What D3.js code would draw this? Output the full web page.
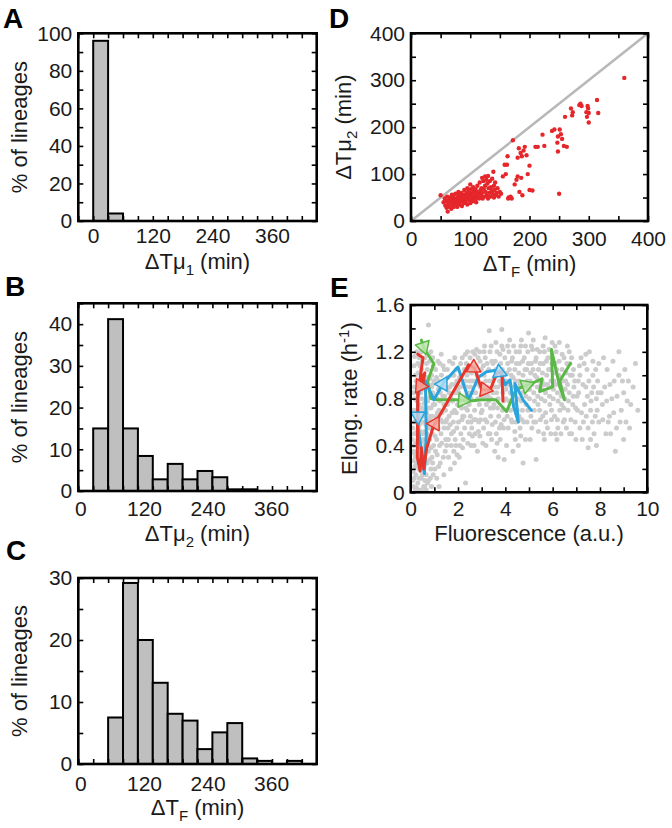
<!DOCTYPE html>
<html><head><meta charset="utf-8">
<script src="https://cdn.jsdelivr.net/npm/d3@7"></script>
<style>
html,body{margin:0;padding:0;background:#fff;}
svg{display:block;}
</style></head><body>
<svg id="fig" width="672" height="828"></svg>
<script>
// ---------------- DATA ----------------
// Panel A histogram (ΔTμ1, min)
const binLeftA = [0, 30];
const binWidthA = 30;
const pctA = [96, 4];
// Panel B histogram (ΔTμ2, min)
const binLeftB = [24.1, 52.3, 80.4, 108.5, 136.6, 164.8, 192.9, 221.0, 249.1, 277.3, 305.4];
const binWidthBC = 28.125;
const pctB = [15, 41.2, 15, 8.4, 2.8, 6.5, 2.8, 4.8, 3.3, 0.4, 0.4];
// Panel C histogram (ΔTF, min)
const binLeftC = [52.3, 80.4, 108.5, 136.6, 164.8, 192.9, 221.0, 249.1, 277.3, 305.4, 333.5, 361.6, 389.8];
const pctC = [7.5, 29.2, 20, 13.1, 8.1, 7.0, 2.4, 5.1, 6.6, 0.9, 0.5, 0, 0.5];
// Tick labels
const histXLabels = [0, 120, 240, 360];
const yLabelsA = [0, 20, 40, 60, 80, 100];
const yLabelsB = [0, 10, 20, 30, 40];
const yLabelsC = [0, 10, 20, 30];
const labelsD = [0, 100, 200, 300, 400];
const xLabelsE = [0, 2, 4, 6, 8, 10];
const yLabelsE = [0, 0.4, 0.8, 1.2, 1.6];

// Panel D scatter: [ΔTF, ΔTμ2]
const scatterD = [
[50,55],[55,40],[57,48],[58,33],[60,28],[60,42],[61,52],[62,20],[63,36],[64,45],[65,30],[66,50],
[67,40],[68,26],[69,56],[70,35],[70,45],[71,52],[72,30],[73,40],[74,48],[75,58],[76,36],[77,44],
[78,30],[79,50],[80,40],[80,62],[81,55],[82,35],[83,46],[84,52],[85,42],[85,60],[86,32],[87,48],
[88,56],[89,38],[90,66],[90,45],[91,52],[92,40],[93,58],[94,48],[95,35],[95,70],[96,62],[97,55],
[98,44],[99,50],[100,38],[100,60],[100,78],[101,68],[102,55],[103,48],[104,42],[105,58],[105,72],
[106,64],[107,50],[108,45],[109,68],[110,55],[110,40],[111,62],[112,75],[113,50],[114,58],[115,48],
[116,82],[117,65],[118,55],[119,70],[120,60],[120,92],[121,48],[122,85],[123,68],[124,52],[125,95],
[125,75],[126,62],[127,88],[128,55],[129,80],[130,96],[130,48],[131,70],[132,60],[133,85],[134,52],
[135,72],[136,64],[137,90],[138,58],[139,105],[140,75],[140,50],[141,66],[142,82],[143,55],[145,60],
[146,70],[148,52],[150,62],[152,58],[155,95],[158,120],[160,100],[162,120],[163,138],[164,48],
[165,50],[168,52],[170,48],[172,172],[175,78],[178,88],[180,95],[180,135],[182,155],[183,62],
[185,145],[186,92],[187,138],[188,55],[190,150],[192,158],[195,140],[197,100],[200,118],[200,66],
[205,65],[210,158],[214,158],[222,184],[225,160],[238,192],[242,195],[247,167],[248,180],[248,148],
[250,58],[251,195],[253,185],[255,175],[258,160],[260,222],[263,158],[270,240],[272,225],[273,232],
[284,247],[286,250],[288,245],[296,232],[297,222],[298,245],[299,240],[300,210],[300,230],[314,258],
[316,230],[360,305]
];
const diagonalD = [[0,0],[400,400]];

// Panel E background cloud: [fluorescence, elongation rate]
const cloudE = [
[0.12,0.05],[0.15,0.12],[0.18,0.22],[0.2,0.3],[0.14,0.4],[0.22,0.5],[0.16,0.6],[0.25,0.7],[0.18,0.8],[0.28,0.9],
[0.2,1.0],[0.3,1.1],[0.22,0.15],[0.3,0.08],[0.35,0.2],[0.28,0.35],[0.38,0.45],[0.32,0.55],[0.4,0.65],[0.35,0.75],
[0.42,0.85],[0.38,0.95],[0.45,1.05],[0.4,0.3],[0.45,0.12],[0.48,0.25],[0.42,0.38],[0.5,0.5],[0.46,0.6],[0.25,0.25],
[0.1,0.35],[0.12,0.7],[0.32,0.65],[0.26,1.2],[0.36,1.15],[0.48,0.72],[0.5,0.92],[0.44,1.2],[0.15,0.9],[0.33,0.02],
[0.45,0.02],[0.2,0.02],[0.3,0.45],[0.24,0.6],[0.36,0.33],[0.1,0.18],[0.5,0.15],[0.5,0.35],[0.13,0.5],[0.41,0.52],
[0.55,0.05],[0.6,0.1],[0.52,0.2],[0.65,0.15],[0.7,0.25],[0.58,0.3],[0.75,0.35],[0.62,0.4],[0.8,0.45],[0.68,0.5],
[0.85,0.55],[0.55,0.6],[0.72,0.6],[0.9,0.65],[0.6,0.7],[0.78,0.72],[0.95,0.75],[0.65,0.8],[0.82,0.82],[0.57,0.88],
[0.75,0.9],[0.92,0.92],[0.63,0.98],[0.88,1.0],[0.7,1.05],[0.95,1.08],[0.8,1.12],[0.6,1.15],[0.9,0.3],[0.97,0.4],
[0.85,0.2],[0.75,0.1],[0.95,0.15],[0.88,0.05],[0.66,0.02],[0.98,0.55],[0.7,0.4],[0.93,0.85],[0.53,0.45],[0.77,0.55],
[0.83,0.65],[0.99,0.95],[0.85,1.2],[0.72,0.78],[0.6,0.52],[0.67,0.68],[0.75,1.43],
[1.02,0.2],[1.05,0.35],[1.1,0.45],[1.15,0.55],[1.08,0.65],[1.2,0.7],[1.12,0.8],[1.25,0.85],[1.18,0.95],[1.3,1.0],
[1.05,1.05],[1.35,0.6],[1.4,0.75],[1.28,0.5],[1.45,0.9],[1.22,0.4],[1.38,0.3],[1.48,0.45],[1.1,0.12],[1.32,0.68],
[1.42,1.05],[1.15,1.12],[1.25,0.25],[1.48,0.6],[1.02,0.75],[1.36,0.82],[1.2,0.05],[1.4,0.15],
[1.52,0.4],[1.58,0.55],[1.62,0.65],[1.55,0.75],[1.7,0.8],[1.65,0.9],[1.75,1.0],[1.8,0.6],[1.85,0.7],[1.9,0.85],
[1.95,0.95],[1.72,0.5],[1.88,0.45],[1.6,0.3],[1.78,1.1],[1.92,1.05],[1.98,0.75],[1.68,0.2],[1.82,0.35],[1.55,1.05],
[1.85,0.25],[1.62,0.85],[1.95,0.55],[1.75,0.68],
[2.02,0.6],[2.05,0.75],[2.1,0.9],[2.15,1.0],[2.2,0.65],[2.25,0.8],[2.3,0.95],[2.35,1.1],[2.4,0.7],[2.45,0.85],
[2.12,0.5],[2.28,0.55],[2.42,0.6],[2.18,1.15],[2.38,1.0],[2.08,0.4],[2.32,0.08],[2.22,0.45],[2.48,0.95],[2.05,0.3],
[2.48,0.5],[2.4,1.2],[2.15,0.72],[2.35,0.82],
[2.52,0.65],[2.55,0.8],[2.6,0.95],[2.65,1.05],[2.7,0.7],[2.75,0.85],[2.8,1.0],[2.85,1.15],[2.9,0.75],[2.95,0.9],
[2.58,0.55],[2.72,0.5],[2.88,0.6],[2.62,1.2],[2.78,1.22],[2.98,1.05],[2.68,0.4],[2.82,0.35],[2.92,0.48],[2.55,0.4],
[2.75,0.62],[2.98,0.68],
[3.02,0.7],[3.05,0.85],[3.1,1.0],[3.15,1.15],[3.2,0.75],[3.25,0.9],[3.3,1.05],[3.35,1.2],[3.4,0.8],[3.45,0.95],
[3.08,0.55],[3.22,0.6],[3.38,0.65],[3.48,1.1],[3.12,1.25],[3.28,0.5],[3.42,0.45],[3.18,0.4],[3.32,1.38],[3.05,0.42],
[3.48,0.72],[3.3,0.78],
[3.52,0.75],[3.55,0.9],[3.6,1.05],[3.65,1.2],[3.7,0.8],[3.75,0.95],[3.8,1.1],[3.85,1.25],[3.9,0.85],[3.95,1.0],
[3.58,0.6],[3.72,0.65],[3.88,0.7],[3.62,0.5],[3.78,0.45],[3.92,0.55],[3.7,0.3],[3.98,1.15],[3.55,0.35],[3.82,0.58],
[3.68,0.9],[3.95,0.28],[3.85,1.39],
[4.02,0.8],[4.05,0.95],[4.1,1.1],[4.15,1.2],[4.2,0.85],[4.25,1.0],[4.3,1.15],[4.35,0.9],[4.4,1.05],[4.45,1.2],
[4.08,0.65],[4.22,0.7],[4.38,0.75],[4.12,0.55],[4.28,0.6],[4.45,0.6],[4.18,1.3],[4.42,0.45],[4.05,0.4],[4.32,0.35],
[4.48,0.88],[4.15,0.78],
[4.52,0.8],[4.55,0.95],[4.6,1.1],[4.65,1.25],[4.7,0.85],[4.75,1.0],[4.8,1.15],[4.85,0.9],[4.9,1.05],[4.95,1.2],
[4.58,0.65],[4.72,0.7],[4.88,0.75],[4.62,0.55],[4.78,0.6],[4.92,0.6],[4.68,1.3],[4.98,0.88],[4.55,0.4],[4.85,0.45],
[4.75,0.25],[4.98,1.36],
[5.02,0.8],[5.05,0.95],[5.1,1.1],[5.15,1.22],[5.2,0.85],[5.25,1.0],[5.3,1.15],[5.35,0.9],[5.4,1.05],[5.45,1.2],
[5.08,0.65],[5.22,0.7],[5.38,0.75],[5.12,0.55],[5.28,0.6],[5.48,0.62],[5.18,1.3],[5.3,0.28],[5.45,0.9],[5.05,0.45],
[5.52,0.8],[5.55,0.95],[5.6,1.1],[5.65,1.2],[5.7,0.85],[5.75,1.0],[5.8,1.15],[5.85,0.9],[5.9,1.05],[5.95,0.7],
[5.58,0.65],[5.72,0.6],[5.88,0.75],[5.62,0.5],[5.78,0.55],[5.98,1.28],[5.68,1.32],[5.92,0.5],
[6.02,0.8],[6.05,0.95],[6.1,1.1],[6.15,1.2],[6.2,0.85],[6.25,1.0],[6.3,0.7],[6.35,0.9],[6.4,1.05],[6.45,0.6],
[6.08,0.65],[6.22,0.55],[6.38,0.75],[6.12,0.5],[6.28,1.28],[6.48,1.15],[6.18,0.45],
[6.52,0.8],[6.55,0.95],[6.6,1.1],[6.65,0.7],[6.7,0.85],[6.75,1.0],[6.8,1.15],[6.85,0.75],[6.9,0.9],[6.95,0.6],
[6.58,0.55],[6.72,0.5],[6.88,1.05],[6.62,1.25],[6.98,0.45],
[7.05,0.7],[7.1,0.85],[7.15,1.0],[7.2,1.15],[7.3,0.6],[7.35,0.75],[7.4,0.9],[7.45,1.05],[7.5,0.55],[7.6,0.7],
[7.65,0.85],[7.7,1.0],[7.8,0.65],[7.85,0.8],[7.9,0.95],[7.25,0.45],[7.55,1.2],[7.75,0.5],[7.95,1.1],[7.15,0.55],
[7.5,0.38],[7.85,0.4],[7.95,0.6],
[8.1,0.75],[8.2,0.9],[8.3,1.05],[8.4,0.65],[8.5,0.8],[8.6,0.95],[8.7,0.55],[8.8,1.0],[8.9,0.7],[9.0,0.85],
[9.1,0.6],[8.25,0.5],[8.55,1.12],[8.15,1.15],[9.3,0.75],[9.5,1.1],[9.2,0.95],[8.65,0.35],[9.0,0.45],[8.35,0.6],
// second pass of readings
[0.08,0.1],[0.11,0.27],[0.17,0.33],[0.21,0.42],[0.09,0.55],[0.19,0.66],[0.27,0.78],[0.11,0.85],[0.23,0.95],[0.31,1.02],
[0.14,1.08],[0.24,0.04],[0.37,0.12],[0.43,0.22],[0.33,0.28],[0.47,0.43],[0.37,0.58],[0.27,0.52],[0.45,0.68],[0.31,0.84],
[0.47,0.8],[0.39,1.08],[0.49,1.12],[0.53,0.98],[0.57,0.76],[0.54,0.65],[0.56,0.38],[0.62,0.27],[0.64,0.58],[0.69,0.72],
[0.73,0.47],[0.79,0.62],[0.81,0.28],[0.87,0.38],[0.91,0.5],[0.94,0.6],[0.86,0.72],[0.97,0.82],[0.89,0.9],[0.81,0.97],
[0.73,0.98],[0.67,1.1],[0.77,1.18],[0.93,1.15],[0.59,0.05],[0.71,0.08],[0.83,0.12],[0.93,0.25],[0.16,1.16],[0.06,0.45],
[1.03,0.48],[1.07,0.58],[1.13,0.68],[1.17,0.88],[1.23,0.78],[1.27,0.62],[1.33,0.9],[1.37,1.08],[1.43,0.82],[1.47,0.7],
[1.12,0.32],[1.18,0.22],[1.31,0.42],[1.41,0.55],[1.46,0.35],[1.09,0.98],[1.23,1.1],[1.29,1.18],[1.53,0.88],[1.57,0.98],
[1.63,0.78],[1.67,0.58],[1.73,0.92],[1.77,0.78],[1.83,1.0],[1.87,0.92],[1.93,0.68],[1.97,0.88],[1.59,0.45],[1.71,0.4],
[1.81,0.52],[1.91,0.4],[1.64,1.12],[1.86,1.15],[1.52,0.62],[1.96,0.32],
[2.03,0.85],[2.07,0.98],[2.13,0.82],[2.17,0.62],[2.23,0.92],[2.27,1.05],[2.33,0.72],[2.37,0.9],[2.43,1.05],[2.47,0.75],
[2.53,0.9],[2.57,1.02],[2.63,0.85],[2.67,0.62],[2.73,0.95],[2.77,1.08],[2.83,0.8],[2.87,0.92],[2.93,1.12],[2.97,0.82],
[2.11,1.1],[2.31,1.18],[2.51,1.15],[2.71,1.18],[2.91,1.2],[2.19,0.38],[2.41,0.42],[2.61,0.48],[2.86,0.52],[2.25,0.65],
[2.55,0.6],[2.95,0.62],
[3.03,0.92],[3.07,1.08],[3.13,0.82],[3.17,0.95],[3.23,1.1],[3.27,0.82],[3.33,0.95],[3.37,0.72],[3.43,1.12],[3.47,0.85],
[3.53,0.98],[3.57,1.12],[3.63,0.85],[3.67,0.72],[3.73,1.02],[3.77,1.18],[3.83,0.92],[3.87,1.05],[3.93,0.78],[3.97,0.92],
[3.1,1.2],[3.4,1.25],[3.6,1.28],[3.9,1.22],[3.15,0.62],[3.45,0.58],[3.75,0.55],[3.35,0.5],[3.65,0.42],[3.95,0.62],
[4.03,0.88],[4.07,1.02],[4.13,0.92],[4.17,1.05],[4.23,0.78],[4.27,1.12],[4.33,0.98],[4.37,0.82],[4.43,0.95],[4.47,1.1],
[4.53,0.88],[4.57,1.02],[4.63,0.92],[4.67,0.78],[4.73,1.12],[4.77,0.92],[4.83,1.05],[4.87,0.82],[4.93,0.95],[4.97,1.1],
[4.1,1.25],[4.35,1.25],[4.6,1.2],[4.85,1.25],[4.25,0.62],[4.5,0.7],[4.7,0.62],[4.95,0.7],[4.4,0.52],[4.65,0.48],
[5.03,0.88],[5.07,1.02],[5.13,0.92],[5.17,1.05],[5.23,0.78],[5.27,1.12],[5.33,0.98],[5.37,0.82],[5.43,0.95],[5.47,1.1],
[5.53,0.88],[5.57,1.02],[5.63,0.92],[5.67,0.78],[5.73,1.12],[5.77,0.92],[5.83,1.05],[5.87,0.82],[5.93,0.95],[5.97,1.1],
[5.1,1.25],[5.35,1.22],[5.6,1.25],[5.85,1.22],[5.2,0.6],[5.45,0.7],[5.7,0.68],[5.95,0.62],[5.4,0.52],[5.65,0.45],
[6.03,0.88],[6.07,1.02],[6.13,0.92],[6.17,1.05],[6.23,0.78],[6.27,1.12],[6.33,0.98],[6.37,0.82],[6.43,0.95],[6.47,0.72],
[6.53,0.88],[6.57,1.02],[6.63,0.92],[6.67,0.78],[6.73,1.1],[6.77,0.62],[6.83,1.0],[6.87,0.82],[6.93,0.95],[6.97,0.72],
[6.1,1.25],[6.4,1.18],[6.7,1.2],[6.2,0.62],[6.5,0.62],[6.8,0.5],[6.35,0.5],
[7.03,0.82],[7.08,0.95],[7.13,1.08],[7.22,0.68],[7.28,0.92],[7.33,1.1],[7.42,0.65],[7.47,0.82],[7.53,0.95],[7.62,0.78],
[7.68,0.6],[7.73,0.9],[7.82,1.05],[7.88,0.7],[7.92,0.85],[7.4,1.18],[7.7,1.12],[7.6,0.45],
[8.05,0.85],[8.12,0.62],[8.28,0.78],[8.42,0.92],[8.45,0.5],[8.58,0.68],[8.72,0.82],[8.85,0.6],[8.95,0.95],[9.15,0.78],
[9.25,0.55],[9.4,0.9],[9.6,0.7],[8.8,1.2],[9.05,1.05]
];
// Panel E lineage trajectories
const trajGreen = [[0.45,1.30],[0.58,1.22],[0.98,1.10],[0.72,0.95],[0.85,0.80],[1.10,0.79],[1.90,0.79],[2.50,0.78],
  [3.00,0.79],[3.60,0.79],[4.05,0.69],[4.45,0.88],[5.00,0.92],[5.55,0.97],[5.45,0.86],[6.00,0.90],[5.95,1.22],
  [6.30,0.90],[6.50,0.79],[6.30,0.95],[6.75,1.10]];
const trajBlue = [[0.50,1.00],[0.30,0.80],[0.32,0.55],[0.58,0.16],[0.66,0.50],[0.62,0.95],[0.98,0.79],[1.40,0.94],
  [2.00,1.07],[2.30,0.88],[2.45,0.79],[2.85,0.98],[3.20,1.03],[3.55,1.04],[3.80,1.02],[4.00,0.92],[4.20,0.96],
  [4.35,0.73],[4.55,0.60],[4.40,0.93],[4.75,0.79],[5.10,0.70]];
const trajRed = [[0.30,1.18],[0.52,1.15],[0.38,0.95],[0.60,1.02],[0.47,0.88],[0.30,0.95],[0.28,0.30],[0.40,0.18],
  [0.45,0.38],[0.55,0.20],[0.68,0.38],[0.95,0.56],[2.45,1.09],[2.70,1.06],[3.00,0.88],[3.35,0.87],[3.65,1.02],
  [3.85,1.03],[3.90,0.78]];
// arrowheads: [segment index, fraction along segment]
const arrowsGreen = [[0,0.7],[6,0.5],[11,0.8]];
const arrowsBlue = [[1,0.6],[6,0.9],[13,0.8]];
const arrowsRed = [[4,0.4],[11,0.05],[12,0.85],[14,0.4]];

// ---------------- DRAWING ----------------
const FAM = '"Liberation Sans", Arial, Helvetica, sans-serif';
const FS = 21;
const FT = 22;
const svg = d3.select("#fig").attr("font-family", FAM);
svg.append("rect").attr("width",672).attr("height",828).attr("fill","#fff");
const defs = svg.append("defs");

function frame(box, x, y, o) {
  const g = svg.append("g");
  const TL = 5;
  const st = s => { s.attr("font-family", FAM); s.select(".domain").remove();
    s.selectAll("line").attr("stroke","#000").attr("stroke-width",1.6); };
  g.append("g").attr("transform",`translate(0,${box.y1})`).call(d3.axisBottom(x).tickValues(o.xTicks).tickSize(-TL).tickFormat("")).call(st);
  g.append("g").attr("transform",`translate(0,${box.y0})`).call(d3.axisTop(x).tickValues(o.xTicks).tickSize(-TL).tickFormat("")).call(st);
  g.append("g").attr("transform",`translate(${box.x0},0)`).call(d3.axisLeft(y).tickValues(o.yTicks).tickSize(-TL).tickFormat("")).call(st);
  g.append("g").attr("transform",`translate(${box.x1},0)`).call(d3.axisRight(y).tickValues(o.yTicks).tickSize(-TL).tickFormat("")).call(st);
  const xl = g.append("g").attr("transform",`translate(0,${box.y1})`)
    .call(d3.axisBottom(x).tickValues(o.xLabels).tickSize(0).tickPadding(o.xPad).tickFormat(o.xFmt));
  const yl = g.append("g").attr("transform",`translate(${box.x0},0)`)
    .call(d3.axisLeft(y).tickValues(o.yLabels).tickSize(0).tickPadding(6).tickFormat(o.yFmt));
  [xl, yl].forEach(s => { s.select(".domain").remove();
    s.attr("font-family", FAM).attr("font-size", FS);
    s.selectAll("text").attr("fill","#1a1a1a"); });
  g.append("rect").attr("x",box.x0).attr("y",box.y0).attr("width",box.x1-box.x0).attr("height",box.y1-box.y0)
    .attr("fill","none").attr("stroke","#000").attr("stroke-width",2.6);
}

function richText(x, y, parts, rotate) {
  const t = svg.append("text").attr("font-size", FT).attr("fill","#1a1a1a").attr("text-anchor","middle")
    .attr("font-family", FAM)
    .attr("transform", `translate(${x},${y})` + (rotate ? " rotate(-90)" : ""));
  let shift = 0;
  parts.forEach(p => {
    const ts = t.append("tspan").text(p.t);
    let target = p.sub ? 6 : p.sup ? -8 : 0;
    if (target !== shift) { ts.attr("dy", target - shift); shift = target; }
    if (p.sub || p.sup) ts.attr("font-size", 15);
  });
}
function letter(ch, x, y) {
  svg.append("text").attr("x",x).attr("y",y).attr("font-size",28).attr("font-weight","bold")
    .attr("font-family", FAM).attr("fill","#000").text(ch);
}

function hist(box, xDom, yDom, lefts, width, vals, xTicks, yTicks, yLabels, xPad) {
  const x = d3.scaleLinear().domain(xDom).range([box.x0, box.x1]);
  const y = d3.scaleLinear().domain(yDom).range([box.y1, box.y0]);
  svg.append("g").selectAll("rect").data(lefts.map((l,i)=>({l, v: vals[i]}))).join("rect")
    .attr("x", d => x(d.l)).attr("width", d => x(d.l + width) - x(d.l))
    .attr("y", d => y(d.v)).attr("height", d => y(0) - y(d.v))
    .attr("fill","#bfbfbf").attr("stroke","#000").attr("stroke-width",2);
  frame(box, x, y, {xTicks, yTicks, xLabels: histXLabels, yLabels, xPad,
    xFmt: d => String(d), yFmt: d => String(d)});
}

const boxA = {x0:78.3, x1:316.7, y0:33.3, y1:221};
const boxB = {x0:78.3, x1:316.7, y0:303.3, y1:491};
const boxC = {x0:78.3, x1:316.7, y0:578, y1:764};
const boxD = {x0:411, x1:648, y0:33.3, y1:221};
const boxE = {x0:410.7, x1:647.3, y0:305, y1:492.3};

const ticksBC = d3.range(0,17).map(k => -4 + binWidthBC*k);
hist(boxA, [-30,450], [0,100], binLeftA, binWidthA, pctA, d3.range(-30,451,30), d3.range(0,101,10), yLabelsA, 7);
hist(boxB, [-4,446], [0,45], binLeftB, binWidthBC, pctB, ticksBC, d3.range(0,46,5), yLabelsB, 10);
hist(boxC, [-4,446], [0,30], binLeftC, binWidthBC, pctC, ticksBC, d3.range(0,31,5), yLabelsC, 12);

// Panel D
{
  const x = d3.scaleLinear().domain([0,400]).range([boxD.x0, boxD.x1]);
  const y = d3.scaleLinear().domain([0,400]).range([boxD.y1, boxD.y0]);
  svg.append("path").datum(diagonalD).attr("d", d3.line().x(d=>x(d[0])).y(d=>y(d[1])))
    .attr("stroke","#b8b8b8").attr("stroke-width",2.6).attr("fill","none");
  svg.append("g").selectAll("circle").data(scatterD).join("circle")
    .attr("cx", d=>x(d[0])).attr("cy", d=>y(d[1])).attr("r",2.2).attr("fill","#e5262b");
  frame(boxD, x, y, {xTicks: d3.range(0,401,50), yTicks: d3.range(0,401,50), xLabels: labelsD, yLabels: labelsD,
    xPad: 10, xFmt: d=>String(d), yFmt: d=>String(d)});
}

// Panel E
{
  const x = d3.scaleLinear().domain([0,10]).range([boxE.x0, boxE.x1]);
  const y = d3.scaleLinear().domain([0,1.6]).range([boxE.y1, boxE.y0]);
  defs.append("clipPath").attr("id","clipE").append("rect")
    .attr("x",boxE.x0).attr("y",boxE.y0).attr("width",boxE.x1-boxE.x0).attr("height",boxE.y1-boxE.y0);
  const gE = svg.append("g").attr("clip-path","url(#clipE)");
  gE.append("g").selectAll("circle").data(cloudE).join("circle")
    .attr("cx", d=>x(d[0])).attr("cy", d=>y(d[1])).attr("r",2.5).attr("fill","#cccccc");
  const line = d3.line().x(d=>x(d[0])).y(d=>y(d[1]));
  const tri = d3.symbol().type(d3.symbolTriangle).size(90);
  const series = [
    {pts: trajGreen, arrows: arrowsGreen, col: "#5ab946", fill: "rgba(190,230,175,0.85)"},
    {pts: trajBlue, arrows: arrowsBlue, col: "#29a4dd", fill: "rgba(175,220,245,0.85)"},
    {pts: trajRed, arrows: arrowsRed, col: "#e8352b", fill: "rgba(245,170,160,0.85)"}
  ];
  series.forEach(s => {
    gE.append("path").datum(s.pts).attr("d", line).attr("fill","none").attr("stroke", s.col)
      .attr("stroke-width", 3).attr("stroke-linejoin","round").attr("stroke-linecap","round");
  });
  series.forEach(s => {
    gE.append("g").selectAll("path").data(s.arrows).join("path")
      .attr("d", tri)
      .attr("transform", d => {
        const a = s.pts[d[0]], b = s.pts[d[0]+1];
        const ax = x(a[0]), ay = y(a[1]), bx = x(b[0]), by = y(b[1]);
        const px = ax + (bx-ax)*d[1], py = ay + (by-ay)*d[1];
        const ang = Math.atan2(by-ay, bx-ax)*180/Math.PI + 90;
        return `translate(${px},${py}) rotate(${ang})`;
      })
      .attr("fill", s.fill).attr("stroke", s.col).attr("stroke-width", 1.5).attr("stroke-linejoin","round");
  });
  frame(boxE, x, y, {xTicks: d3.range(0,11,1), yTicks: d3.range(0,9).map(k=>k*0.2), xLabels: xLabelsE, yLabels: yLabelsE,
    xPad: 9, xFmt: d=>String(d), yFmt: d => d===0 ? "0" : d3.format(".1f")(d)});
}

// Axis titles
const lblY = (box, xpos, parts) => richText(xpos, (box.y0+box.y1)/2, parts, true);
const lblX = (box, off, parts) => richText((box.x0+box.x1)/2, box.y1 + off, parts, false);
lblY(boxA, 27, [{t:"% of lineages"}]);
lblY(boxB, 27, [{t:"% of lineages"}]);
lblY(boxC, 27, [{t:"% of lineages"}]);
lblX(boxA, 48, [{t:"ΔTμ"},{t:"1",sub:true},{t:" (min)"}]);
lblX(boxB, 50, [{t:"ΔTμ"},{t:"2",sub:true},{t:" (min)"}]);
lblX(boxC, 51, [{t:"ΔT"},{t:"F",sub:true},{t:" (min)"}]);
lblY(boxD, 351, [{t:"ΔTμ"},{t:"2",sub:true},{t:" (min)"}]);
lblX(boxD, 50, [{t:"ΔT"},{t:"F",sub:true},{t:" (min)"}]);
lblY(boxE, 357, [{t:"Elong. rate (h"},{t:"-1",sup:true},{t:")"}]);
lblX(boxE, 49, [{t:"Fluorescence (a.u.)"}]);

letter("A", 3, 28);
letter("B", 5, 296);
letter("C", 6, 560);
letter("D", 329, 28);
letter("E", 330, 297);
</script></body></html>
